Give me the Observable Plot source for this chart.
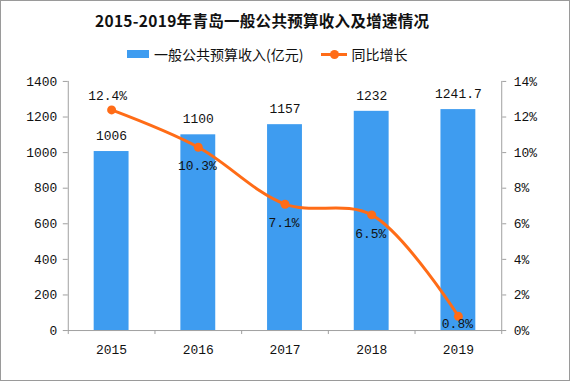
<!DOCTYPE html>
<html>
<head>
<meta charset="utf-8">
<script src="https://cdn.jsdelivr.net/npm/d3@7"></script>
<script src="https://cdn.jsdelivr.net/npm/@observablehq/plot@0.6"></script>
<style>
  html, body { margin: 0; padding: 0; background: #fff; }
  #wrap { position: relative; width: 570px; height: 381px; box-sizing: border-box; border: 1px solid #9a9a9a; overflow: hidden; background: #fff; }
  #title { position: absolute; top: 8px; left: 94px; white-space: nowrap; font-family: "Noto Sans CJK SC", sans-serif; font-weight: bold; font-size: 15.5px; letter-spacing: 0.3px; color: #111; }
  #legend { position: absolute; top: 43px; left: 126px; display: flex; align-items: center; white-space: nowrap; font-family: "Noto Sans CJK SC", sans-serif; font-size: 14px; color: #111; }
  .sw { display: inline-block; width: 22px; height: 8px; background: #3e9cf0; margin-right: 5px; }
  .ln { display: inline-block; position: relative; width: 26px; height: 3px; background: #ff6c17; margin-right: 4px; margin-left: 18px; }
  .ln::after { content: ""; position: absolute; left: 9px; top: -3px; width: 9px; height: 9px; border-radius: 50%; background: #ff6c17; }
  #chart { position: absolute; top: 60px; left: 0; }
</style>
</head>
<body>
<div id="wrap">
  <div id="title"></div>
  <div id="legend"></div>
  <div id="chart"></div>
</div>
<script>
const title = "2015-2019年青岛一般公共预算收入及增速情况";
const seriesBar = "一般公共预算收入(亿元)";
const seriesLine = "同比增长";
const years = ["2015", "2016", "2017", "2018", "2019"];
const revenue = [1006, 1100, 1157, 1232, 1241.7];
const revenueLabels = ["1006", "1100", "1157", "1232", "1241.7"];
const growth = [12.4, 10.3, 7.1, 6.5, 0.8];
const growthLabels = ["12.4%", "10.3%", "7.1%", "6.5%", "0.8%"];
const leftTicks = [0, 200, 400, 600, 800, 1000, 1200, 1400];
const rightTicks = ["0%", "2%", "4%", "6%", "8%", "10%", "12%", "14%"];

document.getElementById("title").textContent = title;
document.getElementById("legend").innerHTML =
  `<span class="sw"></span><span>${seriesBar}</span><span class="ln"></span><span>${seriesLine}</span>`;

const data = years.map((y, i) => ({
  year: y, rev: revenue[i], revLabel: revenueLabels[i],
  g: growth[i], gScaled: growth[i] * 100, gLabel: growthLabels[i], i
}));

const W = 570, H = 310, mL = 67, mR = 68;
const band = (W - mL - mR) / years.length;
const numFont = "Liberation Mono, monospace";
const axisColor = "#a0a0a0";

const chart = Plot.plot({
  width: W,
  height: H,
  marginLeft: mL,
  marginRight: mR,
  marginTop: 20,
  marginBottom: 40,
  style: { fontFamily: numFont, fontSize: "13px", color: "#111", background: "transparent" },
  x: { type: "band", domain: years, paddingInner: 0.6, paddingOuter: 0.3, axis: null, label: null },
  y: { domain: [0, 1400], axis: null, label: null },
  marks: [
    Plot.barY(data, { x: "year", y: "rev", fill: "#3e9cf0" }),
    Plot.frame({ anchor: "left", stroke: axisColor }),
    Plot.frame({ anchor: "right", stroke: axisColor }),
    Plot.frame({ anchor: "bottom", stroke: axisColor }),
    Plot.axisY(leftTicks, { anchor: "left", tickSize: 5, tickPadding: 6, stroke: axisColor, fill: "#111", fontSize: 13,
      tickFormat: (d) => String(d), label: null }),
    Plot.axisY(leftTicks, { anchor: "right", tickSize: 4, tickPadding: 8, stroke: axisColor, fill: "#111", fontSize: 13,
      tickFormat: (d) => rightTicks[leftTicks.indexOf(d)], label: null }),
    Plot.axisX(years, { anchor: "bottom", tickSize: 0, tickPadding: 14, fill: "#111", fontSize: 13, label: null }),
    Plot.axisX(years, { anchor: "bottom", tickSize: 4, tickFormat: () => "", stroke: axisColor, dx: -band / 2, label: null }),
    Plot.axisX([years[years.length - 1]], { anchor: "bottom", tickSize: 4, tickFormat: () => "", stroke: axisColor, dx: band / 2, label: null }),
    Plot.text(data, { x: "year", y: "rev", text: "revLabel", dy: -16, fill: "#111", fontSize: 13 }),
    Plot.line(data, { x: "year", y: "gScaled", stroke: "#ff6c17", strokeWidth: 3, curve: "catmull-rom" }),
    Plot.dot(data, { x: "year", y: "gScaled", fill: "#ff6c17", r: 4.5 }),
    Plot.text(data.filter(d => d.i === 0), { x: "year", y: "gScaled", text: "gLabel", dy: -14, dx: -4, fill: "#111", fontSize: 13 }),
    Plot.text(data.filter(d => d.i > 0 && d.i < 4), { x: "year", y: "gScaled", text: "gLabel", dy: 19, dx: -1, fill: "#111", fontSize: 13 }),
    Plot.text(data.filter(d => d.i === 4), { x: "year", y: "gScaled", text: "gLabel", dy: 8, dx: -1, fill: "#111", fontSize: 13 })
  ]
});
document.getElementById("chart").appendChild(chart);
</script>
</body>
</html>
